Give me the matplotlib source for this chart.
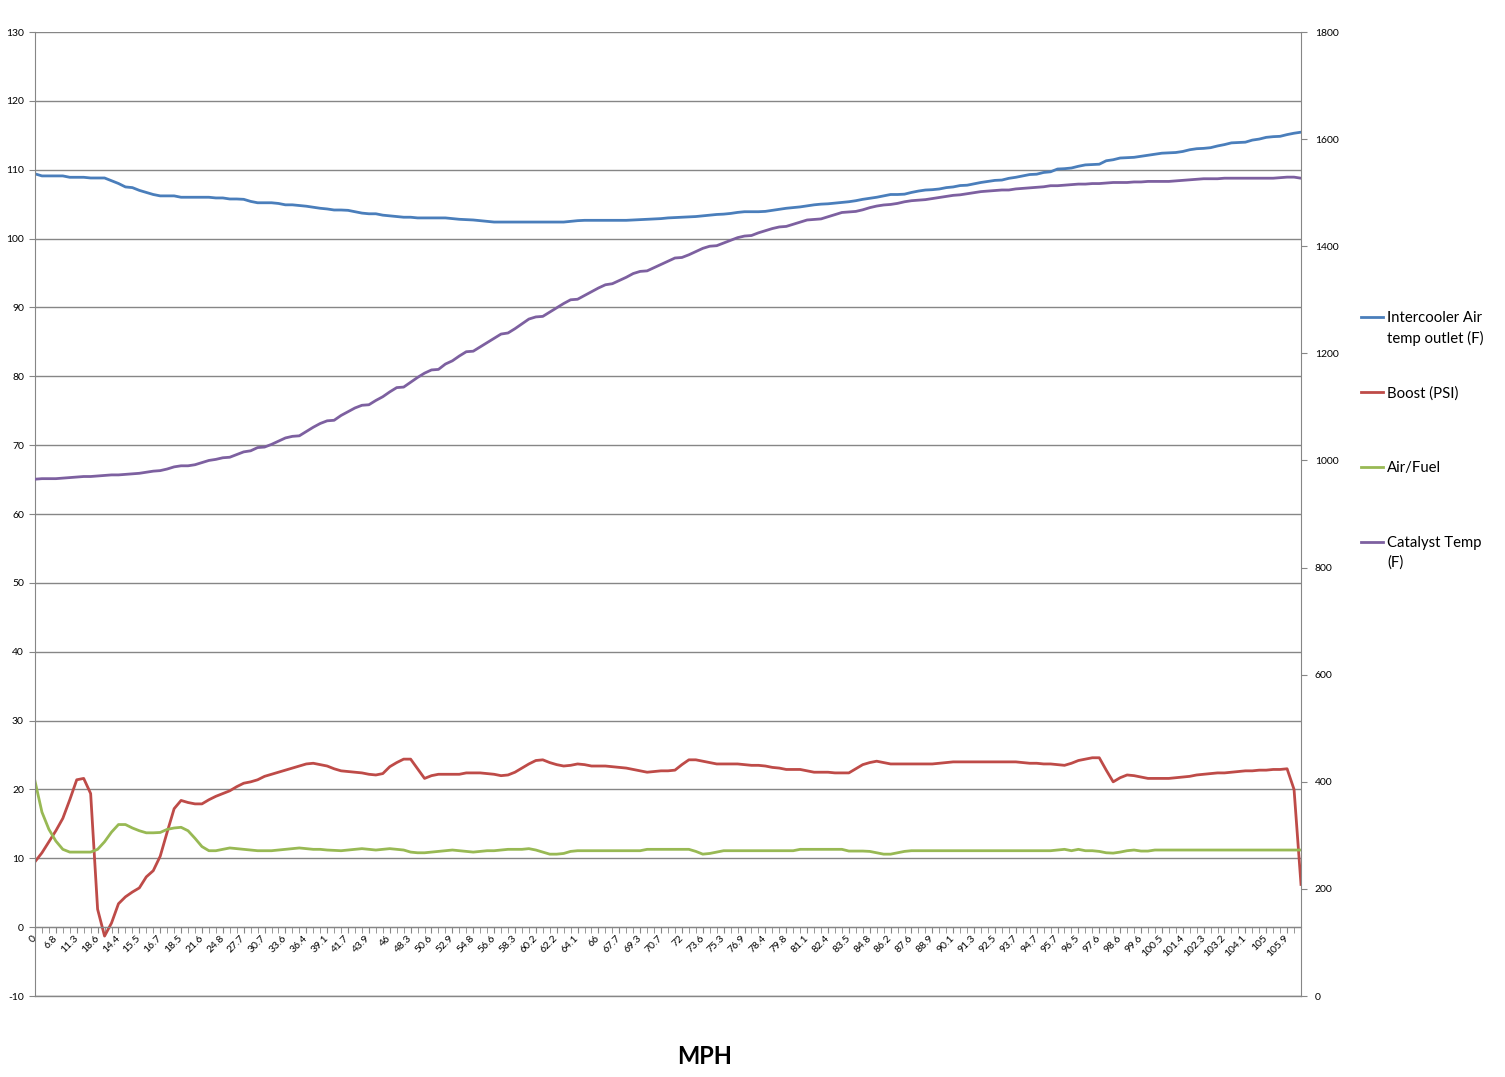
import numpy as np
import matplotlib
matplotlib.use("Agg")
import matplotlib.pyplot as plt
from matplotlib.lines import Line2D

plt.rcParams['font.family'] = ['Lato', 'DejaVu Sans']
plt.rcParams['axes.unicode_minus'] = False

# подписи оси X (видна каждая третья категория)
mph_labels = ['0', '6.8', '11.3', '18.6', '14.4', '15.5', '16.7', '18.5', '21.6', '24.8',
              '27.7', '30.7', '33.6', '36.4', '39.1', '41.7', '43.9', '46', '48.3', '50.6',
              '52.9', '54.8', '56.6', '58.3', '60.2', '62.2', '64.1', '66', '67.7', '69.3',
              '70.7', '72', '73.6', '75.3', '76.9', '78.4', '79.8', '81.1', '82.4', '83.5',
              '84.8', '86.2', '87.6', '88.9', '90.1', '91.3', '92.5', '93.7', '94.7', '95.7',
              '96.5', '97.6', '98.6', '99.6', '100.5', '101.4', '102.3', '103.2', '104.1', '105',
              '105.9']

# Intercooler Air temp outlet (F) - левая ось
intercooler = [109.4, 109.1, 109.1, 109.1, 109.1, 108.9, 108.9, 108.9, 108.8, 108.8,
               108.8, 108.4, 108.0, 107.5, 107.4, 107.0, 106.7, 106.4, 106.2, 106.2,
               106.2, 106.0, 106.0, 106.0, 106.0, 106.0, 105.9, 105.9, 105.75, 105.75,
               105.7, 105.4, 105.2, 105.2, 105.2, 105.1, 104.9, 104.9, 104.8, 104.7,
               104.55, 104.4, 104.3, 104.15, 104.15, 104.1, 103.9, 103.7, 103.6, 103.6,
               103.4, 103.3, 103.2, 103.1, 103.1, 103.0, 103.0, 103.0, 103.0, 103.0,
               102.9, 102.8,
               102.75, 102.7, 102.6, 102.5, 102.4, 102.4, 102.4, 102.4, 102.4, 102.4,
               102.4, 102.4, 102.4, 102.4, 102.4, 102.5, 102.6, 102.65, 102.65, 102.65,
               102.65, 102.65, 102.65, 102.65, 102.7, 102.75, 102.8, 102.85, 102.9, 103.0,
               103.05, 103.1, 103.15, 103.2, 103.3, 103.4, 103.5, 103.55, 103.65, 103.8,
               103.9, 103.9, 103.9, 103.95, 104.1, 104.25, 104.4, 104.5, 104.6, 104.75,
               104.9, 105.0, 105.05, 105.15, 105.25, 105.35, 105.5, 105.7, 105.85, 106.0,
               106.2, 106.4, 106.4, 106.45, 106.7, 106.9, 107.05, 107.1, 107.2, 107.4,
               107.5, 107.7, 107.75, 107.95, 108.15, 108.3, 108.45, 108.5, 108.75, 108.9,
               109.1, 109.3, 109.35, 109.6, 109.7, 110.1, 110.15, 110.25, 110.5, 110.7,
               110.75, 110.8, 111.3, 111.45, 111.7, 111.75, 111.8, 111.95, 112.1, 112.25,
               112.4, 112.45, 112.5, 112.65, 112.9, 113.05, 113.1, 113.2, 113.45, 113.65,
               113.9, 113.95, 114.0, 114.3, 114.45, 114.7, 114.8, 114.85, 115.1, 115.3,
               115.45]

# Boost (PSI) - левая ось
boost = [9.5, 10.8, 12.4, 14.0, 15.8, 18.5, 21.4, 21.6, 19.4, 2.6,
         -1.3, 0.6, 3.4, 4.4, 5.1, 5.7, 7.3, 8.2, 10.3, 13.8,
         17.2, 18.4, 18.1, 17.9, 17.9, 18.5, 19.0, 19.4, 19.8, 20.4,
         20.9, 21.1, 21.4, 21.9, 22.2, 22.5, 22.8, 23.1, 23.4, 23.7,
         23.8, 23.6, 23.4, 23.0, 22.7, 22.6, 22.5, 22.4, 22.2, 22.1,
         22.3, 23.3, 23.9, 24.4, 24.4, 23.0, 21.6, 22.0, 22.2, 22.2,
         22.2, 22.2, 22.4, 22.4, 22.4, 22.3, 22.2, 22.0, 22.1, 22.5,
         23.1, 23.7, 24.2, 24.3, 23.9, 23.6, 23.4, 23.5, 23.7, 23.6,
         23.4, 23.4, 23.4, 23.3, 23.2, 23.1, 22.9, 22.7, 22.5, 22.6,
         22.7, 22.7, 22.8, 23.6, 24.3, 24.3, 24.1, 23.9, 23.7, 23.7,
         23.7, 23.7, 23.6, 23.5, 23.5, 23.4, 23.2, 23.1, 22.9, 22.9,
         22.9, 22.7, 22.5, 22.5, 22.5, 22.4, 22.4, 22.4, 23.0, 23.6,
         23.9, 24.1, 23.9, 23.7, 23.7, 23.7, 23.7, 23.7, 23.7, 23.7,
         23.8, 23.9, 24.0, 24.0, 24.0, 24.0, 24.0, 24.0, 24.0, 24.0,
         24.0, 24.0, 23.9, 23.8, 23.8, 23.7, 23.7, 23.6, 23.5, 23.8,
         24.2, 24.4, 24.6, 24.6, 22.8, 21.1, 21.7, 22.1, 22.0, 21.8,
         21.6, 21.6, 21.6, 21.6, 21.7, 21.8, 21.9, 22.1, 22.2, 22.3,
         22.4, 22.4, 22.5, 22.6, 22.7, 22.7, 22.8, 22.8, 22.9, 22.9,
         23.0, 20.0, 6.2]

# Air/Fuel - левая ось
air_fuel = [21.2, 16.7, 14.2, 12.5, 11.3, 10.9, 10.9, 10.9, 10.9, 11.3,
            12.4, 13.8, 14.9, 14.9, 14.4, 14.0, 13.7, 13.7, 13.75, 14.2,
            14.4, 14.5, 14.0, 12.9, 11.7, 11.1, 11.1, 11.3, 11.5, 11.4,
            11.3, 11.2, 11.1, 11.1, 11.1, 11.2, 11.3, 11.4, 11.5, 11.4,
            11.3, 11.3, 11.2, 11.15, 11.1, 11.2, 11.3, 11.4, 11.3, 11.2,
            11.3, 11.4, 11.3, 11.2, 10.9, 10.8, 10.8, 10.9, 11.0, 11.1,
            11.2, 11.1, 11.0, 10.9, 11.0, 11.1, 11.1, 11.2, 11.3, 11.3,
            11.3, 11.4, 11.2, 10.9, 10.6, 10.6, 10.7, 11.0, 11.1, 11.1,
            11.1, 11.1, 11.1, 11.1, 11.1, 11.1, 11.1, 11.1, 11.3, 11.3,
            11.3, 11.3, 11.3, 11.3, 11.3, 11.0, 10.6, 10.7, 10.9, 11.1,
            11.1, 11.1, 11.1, 11.1, 11.1, 11.1, 11.1, 11.1, 11.1, 11.1,
            11.3, 11.3, 11.3, 11.3, 11.3, 11.3, 11.3, 11.05, 11.05, 11.05,
            11.0, 10.8, 10.6, 10.6, 10.8, 11.0, 11.1, 11.1, 11.1, 11.1,
            11.1, 11.1, 11.1, 11.1, 11.1, 11.1, 11.1, 11.1, 11.1, 11.1,
            11.1, 11.1, 11.1, 11.1, 11.1, 11.1, 11.1, 11.2, 11.3, 11.1,
            11.3, 11.1, 11.1, 11.0, 10.8, 10.75, 10.9, 11.1, 11.2, 11.05,
            11.05, 11.2, 11.2, 11.2, 11.2, 11.2, 11.2, 11.2, 11.2, 11.2,
            11.2, 11.2, 11.2, 11.2, 11.2, 11.2, 11.2, 11.2, 11.2, 11.2,
            11.2, 11.2, 11.2]

# Catalyst Temp (F) - правая ось
catalyst = [965, 966, 966, 966, 967, 968, 969, 970, 970, 971,
            972, 973, 973, 974, 975, 976, 978, 980, 981, 984,
            988, 990, 990, 992, 996, 1000, 1002, 1005, 1006, 1011,
            1016, 1018, 1024, 1025, 1030, 1036, 1042, 1045, 1046, 1054,
            1062, 1069, 1074, 1075, 1084, 1091, 1098, 1103, 1104, 1112,
            1119, 1128, 1136, 1137, 1146, 1155, 1163, 1169, 1170, 1180,
            1186, 1195, 1203, 1204, 1212, 1220, 1228, 1236, 1238, 1246,
            1255, 1264, 1268, 1269, 1277, 1285, 1293, 1300, 1301, 1308,
            1315, 1322, 1328, 1330, 1336, 1342, 1349, 1353, 1354, 1360,
            1366, 1372, 1378, 1379, 1384, 1390, 1396, 1400, 1401, 1406,
            1411, 1416, 1419, 1420, 1425, 1429, 1433, 1436, 1437, 1441,
            1445, 1449, 1450, 1451, 1455, 1459, 1463, 1464, 1465, 1468,
            1472, 1475, 1477, 1478, 1480, 1483, 1485, 1486, 1487, 1489,
            1491, 1493, 1495, 1496, 1498, 1500, 1502, 1503, 1504, 1505,
            1505, 1507, 1508, 1509, 1510, 1511, 1513, 1513, 1514, 1515,
            1516, 1516, 1517, 1517, 1518, 1519, 1519, 1519, 1520, 1520,
            1521, 1521, 1521, 1521, 1522, 1523, 1524, 1525, 1526, 1526,
            1526, 1527, 1527, 1527, 1527, 1527, 1527, 1527, 1527, 1528,
            1529, 1529, 1527]

series_names = ['Intercooler Air\ntemp outlet (F)', 'Boost (PSI)', 'Air/Fuel', 'Catalyst Temp\n(F)']
series_colors = ['#4A7EBB', '#BE4B48', '#98B954', '#7D60A0']
grid_color = '#868686'

W, H = 1505, 1077
fig = plt.figure(figsize=(W / 100, H / 100), dpi=100)
ax = fig.add_axes([35 / W, 1 - 996 / H, (1301 - 35) / W, (996 - 32) / H])
x = np.arange(len(boost))

# левая ось
ax.plot(x, intercooler, color=series_colors[0], lw=2, solid_joinstyle='round')
ax.plot(x, boost, color=series_colors[1], lw=2, solid_joinstyle='round')
ax.plot(x, air_fuel, color=series_colors[2], lw=2, solid_joinstyle='round')
ax.set_xlim(0, len(x) - 1)
ax.set_ylim(-10, 130)
ax.set_yticks(range(-10, 131, 10))
ax.grid(axis='y', color=grid_color, lw=1)
ax.axhline(-10, color=grid_color, lw=1, clip_on=False)
ax.set_axisbelow(True)

for s in ['top', 'right']:
    ax.spines[s].set_visible(False)
ax.spines['left'].set_color(grid_color)
ax.spines['bottom'].set_color(grid_color)
ax.spines['bottom'].set_position(('data', 0))

ax.set_xticks(x[::3])
ax.set_xticklabels(mph_labels, rotation=45, ha='right', va='center',
                   rotation_mode='anchor', fontsize=7.5)
ax.set_xticks(x, minor=True)
ax.tick_params(axis='x', which='both', length=4, color=grid_color, pad=3)
ax.tick_params(axis='y', length=4, color=grid_color, labelsize=7.5, pad=4)

# правая ось
ax2 = ax.twinx()
ax2.plot(x, catalyst, color=series_colors[3], lw=2, solid_joinstyle='round')
ax2.set_ylim(0, 1800)
ax2.set_yticks(range(0, 1801, 200))
for s in ['top', 'left', 'bottom']:
    ax2.spines[s].set_visible(False)
ax2.spines['right'].set_color(grid_color)
ax2.tick_params(axis='y', length=4, color=grid_color, labelsize=7.5, pad=6)

# легенда справа
for k, (name, col) in enumerate(zip(series_names, series_colors)):
    ly = 1 - (317 + 75 * k) / H
    fig.add_artist(Line2D([1361 / W, 1383 / W], [ly, ly], color=col, lw=2))
    fig.text(1387 / W, ly + 6 / H, name, fontsize=10.7, va='top', ha='left',
             linespacing=1.5)

fig.text(705 / W, 1 - 1057 / H, 'MPH', fontsize=17, fontweight='bold',
         ha='center', va='center')

fig.savefig('out.png', dpi=100)
